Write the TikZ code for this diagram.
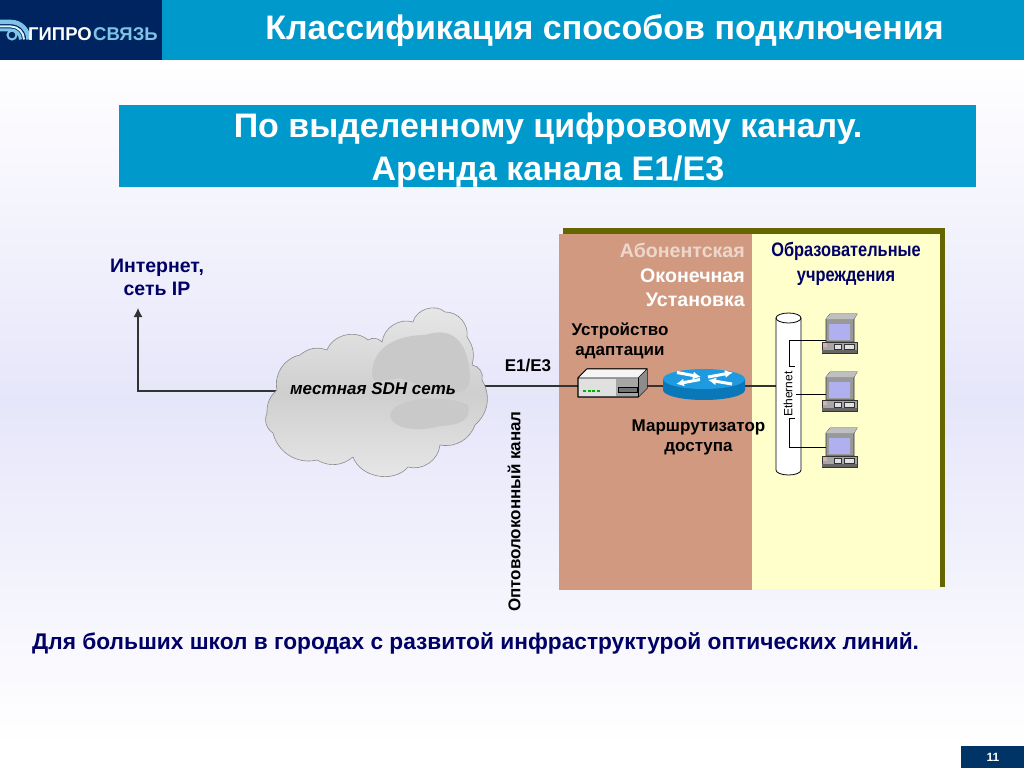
\documentclass[tikz,border=0pt]{standalone}
\usepackage{fontspec}
\setmainfont{Liberation Sans}
\usetikzlibrary{arrows.meta}
\definecolor{navyd}{HTML}{00245F}
\definecolor{navpg}{HTML}{003366}
\definecolor{teal1}{HTML}{0099CC}
\definecolor{peach}{HTML}{D19A80}
\definecolor{paley}{HTML}{FFFFCC}
\definecolor{olive1}{HTML}{666600}
\definecolor{lav}{HTML}{E6E6FA}
\definecolor{navtxt}{HTML}{000066}
\definecolor{rtop}{HTML}{1E9AE0}
\definecolor{rside}{HTML}{0A78B8}
\definecolor{logoa}{HTML}{7FC4E8}
\definecolor{screenb}{HTML}{B0B0F0}
\tikzset{
  lbl/.style={font=\bfseries\fontsize{17}{20}\selectfont,align=center,inner sep=0pt,text=black},
  nlbl/.style={font=\bfseries\fontsize{19.5}{23}\selectfont,align=center,inner sep=0pt,text=navtxt},
  link/.style={draw=black!80,line width=1.2pt},
  thin link/.style={draw=black,line width=.8pt},
  hdr/.style={font=\bfseries\fontsize{34}{43}\selectfont,text=white,align=center,inner sep=0pt},
  routarrow/.style={white,line width=3pt,-{Latex[length=8pt,width=8pt]}},
}
\newcommand{\pcicon}[2]{%
\begin{scope}[shift={(#1)}]
 \coordinate (#2) at (-13,0);
 \draw[black!80,line width=.6pt,fill=black!40] (-13,-21) -- (-9,-26) -- (18,-26) -- (15,-21) -- (15,2) -- (-13,2) -- cycle;
 \fill[black!25] (-13,-21) -- (-9,-26) -- (18,-26) -- (15,-21) -- cycle;
 \fill[screenb] (-10,-16) rectangle (11,0);
 \draw[black!80,line width=.6pt,fill=black!35] (-17,2) rectangle (18,13);
 \fill[black!60] (-17,10) rectangle (18,13);
 \fill[red!45!black!30] (-16,3) rectangle (-12,7);
 \draw[black!80,fill=black!12,line width=.4pt] (-5,4) rectangle (2,9);
 \draw[black!80,fill=black!12,line width=.4pt] (5,4) rectangle (15,9);
\end{scope}}
\begin{document}
\begin{tikzpicture}[x=1pt,y=-1pt]
\useasboundingbox (0,0) rectangle (1024,768);
% background
\fill[white] (0,0) rectangle (1024,768);
\path[top color=white,bottom color=lav] (0,60) rectangle (1024,400);
\path[top color=lav,bottom color=white] (0,400) rectangle (1024,745);
% header
\fill[teal1] (0,0) rectangle (1024,60);
\fill[navyd] (0,0) rectangle (162,60);
% logo
\draw[logoa,line width=4.5pt] (0,22) -- (11,22) arc[start angle=90,end angle=0,radius=17.5pt];
\draw[white!85!cyan,line width=2pt] (0,26.5) -- (11,26.5) arc[start angle=90,end angle=0,radius=13pt];
\draw[logoa,line width=3pt] (0,30) -- (11,30) arc[start angle=90,end angle=0,radius=9.5pt];
\draw[logoa,line width=2pt] (12,35) circle[radius=4.5pt];
\node[font=\bfseries\fontsize{18.5}{18}\selectfont,text=logoa,inner sep=0pt,anchor=west] (logotwo) at (93,34.5) {СВЯЗЬ};
\node[font=\bfseries\fontsize{18.5}{18}\selectfont,text=white,inner sep=0pt,anchor=west] (logoone) at (28,34.5) {ГИПРО};
\node[hdr] (title) at (604.5,31) {Классификация способов подключения};
% band
\fill[teal1] (119,105) rectangle (976,187);
\node[hdr] (sub) at (548,150.5) {По выделенному цифровому каналу.\\Аренда канала Е1/Е3};
% boxes
\fill[olive1] (563,228) rectangle (945,587);
\fill[paley] (752,234) rectangle (940,589);
\fill[peach] (558.5,233.5) rectangle (752,590);
% upstream
\coordinate (up) at (138,308);
\coordinate (cloudl) at (278,391);
\coordinate (elbow) at (138,391);
\draw[link,-{Latex[length=9pt,width=9pt]}] (cloudl) -- (elbow) -- (up);
\node[nlbl] (inet) at (157,277) {Интернет,\\сеть IP};
% links under cloud and devices
\coordinate (cloudr) at (480,386);
\coordinate (modl) at (580,386);
\coordinate (modr) at (647,386);
\coordinate (routl) at (665,386);
\coordinate (routr) at (745,386);
\coordinate (cylE) at (776,386);
\draw[link] (cloudr) -- (modl);
\draw[link] (modr) -- (routl);
\draw[link] (routr) -- (cylE);
% cloud
\path[top color=black!9,bottom color=black!9,middle color=black!19,draw=black!45,line width=.6pt]
 (267,413) to[bend left=25] (277,390) to[bend left=45] (300,355) to[bend left=30] (327,350)
 to[bend left=55] (368,340) to[bend left=40] (382,342) to[bend left=50] (413,322) to[bend left=60] (445,312)
 to[bend left=50] (467,337) to[bend left=25] (472,365) to[bend left=50] (482,380) to[bend left=40] (475,425)
 to[bend left=40] (440,445) to[bend left=50] (408,467) to[bend left=60] (353,457) to[bend left=35] (317,460)
 to[bend left=45] (273,433) to[bend left=40] cycle;
\fill[black!21] (372,375) .. controls (372,345) and (400,335) .. (425,335) .. controls (455,325) and (468,345) .. (470,375) .. controls (470,395) and (460,400) .. (400,378) .. controls (385,380) and (372,385) .. (372,375);
\fill[black!21] (390,415) .. controls (395,395) and (450,395) .. (468,405) .. controls (472,420) and (460,425) .. (440,426) .. controls (420,432) and (392,430) .. (390,415);
\node[font=\bfseries\itshape\fontsize{17}{18}\selectfont,inner sep=0pt] (cloudtxt) at (373,389) {местная SDH сеть};
% link labels
\node[lbl] (e1) at (528,366) {Е1/Е3};
\node[lbl,rotate=90] (fibre) at (514,511.5) {Оптоволоконный канал};
% peach labels
\node[font=\bfseries\fontsize{19.6}{24.5}\selectfont,text=white,align=right,inner sep=0pt,anchor=east] (ab) at (745,275) {\textcolor{white!60!peach}{Абонентская}\\Оконечная\\Установка};
\node[lbl] (adapt) at (620,341) {Устройство\\адаптации};
\node[lbl] (rtxt) at (698.5,437) {Маршрутизатор\\доступа};
% modem
\draw[black,line width=1.2pt,fill=black!12,line join=round] (578,378) -- (587,369) -- (647,369) -- (647,388) -- (638,397) -- (578,397) -- cycle;
\fill[black!35] (616,379) rectangle (638,396.4);
\fill[black!45] (638,378) -- (647,369) -- (647,388) -- (638,397) -- cycle;
\draw[black,line width=.6pt,fill=black!4] (578,378) -- (587,369) -- (647,369) -- (638,378) -- cycle;
\draw[black,line width=.6pt] (638,378) -- (638,397);
\draw[black,fill=black!55,line width=.5pt] (618,387) rectangle (637,392);
\foreach \x in {583,587.5,592,596.5}{\fill[green!70!black] (\x,390) rectangle ++(3,2.2);}
% router
\fill[rside] (663,379) -- (663,390) arc[start angle=180,end angle=360,x radius=41pt,y radius=10pt] -- (745,379) -- cycle;
\fill[rtop] (704,379) ellipse[x radius=41pt,y radius=10pt];
\draw[routarrow] (677,372.5) -- (701,377);
\draw[routarrow] (732,384) -- (708,380);
\draw[routarrow] (708,377) -- (733,372.5);
\draw[routarrow] (700,379.5) -- (676,384);
% Ethernet cylinder
\draw[black,line width=.8pt,fill=white] (776,318) arc[start angle=180,end angle=0,x radius=12.5pt,y radius=5pt] -- (801,470) arc[start angle=360,end angle=180,x radius=12.5pt,y radius=5pt] -- cycle;
\draw[black,line width=.8pt] (776,318) arc[start angle=180,end angle=360,x radius=12.5pt,y radius=5pt];
\pcicon{839,340}{pa}
\pcicon{839,398}{pb}
\pcicon{839,454}{pc}
\node[font=\fontsize{12}{12}\selectfont,rotate=90,inner sep=0pt] (ethtxt) at (788,394) {Ethernet};
\coordinate (ta) at (789,366);
\coordinate (tb) at (789,418);
\coordinate (mid) at (796,394);
\draw[thin link] (795,366) -- (ta) |- (pa);
\draw[thin link] (mid) -- (mid -| pb);
\draw[thin link] (795,418) -- (tb) |- (789,447.5) -- (789,447.5 -| pc);
\node[nlbl,transform shape,xscale=.84,font=\bfseries\fontsize{19.5}{25}\selectfont] (edu) at (846,264) {Образовательные\\учреждения};
% bottom
\node[font=\bfseries\fontsize{22.7}{23}\selectfont,text=navtxt,inner sep=0pt,anchor=west] (note) at (32,643) {Для больших школ в городах с развитой инфраструктурой оптических линий.};
\fill[navpg] (961,746) rectangle (1024,768);
\node[font=\bfseries\fontsize{12}{12}\selectfont,text=white,inner sep=0pt] (pg) at (993,757) {11};
\end{tikzpicture}
\end{document}
